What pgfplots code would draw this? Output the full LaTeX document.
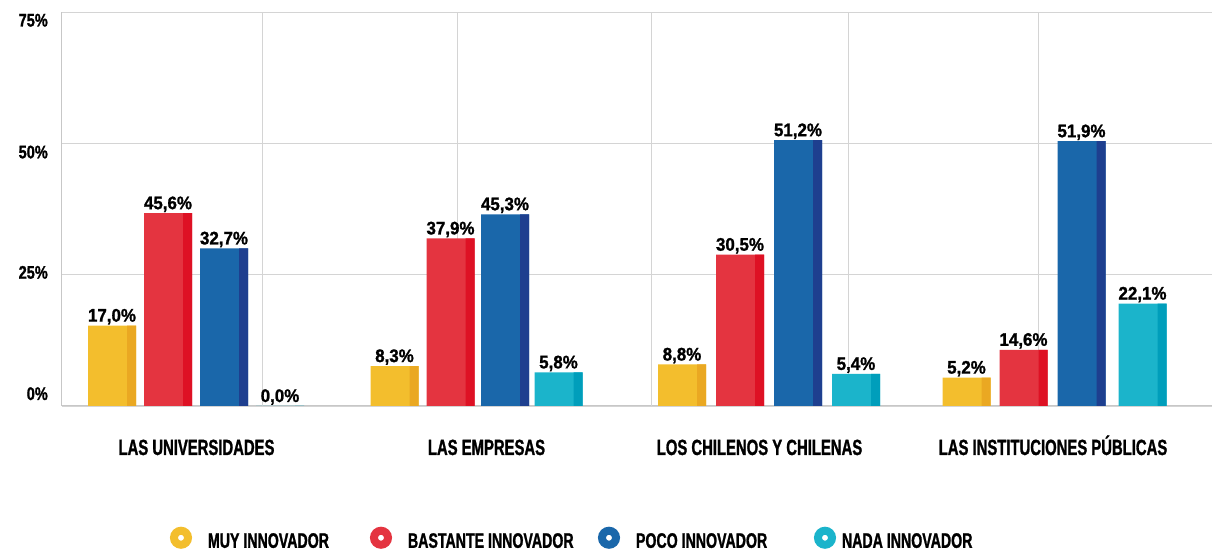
\documentclass[border=0pt]{standalone}
\usepackage{fontspec}
\setmainfont{Liberation Sans}[FakeStretch=0.675, FakeBold=1.2]
\newfontfamily\numfont{Liberation Sans}[FakeStretch=0.93, FakeBold=1.2]
\newfontfamily\tickfont{Liberation Sans}[FakeStretch=0.8, FakeBold=1.2]
\usepackage{pgfplots}
\usepackage{pgfplotstable}
\pgfplotsset{compat=1.18}

\definecolor{ylw}{HTML}{F3BE2D}\definecolor{ylwD}{HTML}{EAA822}
\definecolor{rd}{HTML}{E43440}\definecolor{rdD}{HTML}{DE1124}
\definecolor{bl}{HTML}{1A67AA}\definecolor{blD}{HTML}{1E3F8F}
\definecolor{cy}{HTML}{1BB4CB}\definecolor{cyD}{HTML}{009EBB}

% x = bar centre (px), y = bar height as drawn, lab = printed value
\pgfplotstableread{
x y lab
112 15.3 17,0\%
394.5 7.6 8,3\%
682 7.9 8,8\%
966.5 5.4 5,2\%
}\muy
\pgfplotstableread{
x y lab
168 36.7 45,6\%
450.5 31.9 37,9\%
740 28.8 30,5\%
1023.5 10.7 14,6\%
}\bastante
\pgfplotstableread{
x y lab
224 30.0 32,7\%
505 36.5 45,3\%
798 50.6 51,2\%
1081.5 50.4 51,9\%
}\poco
\pgfplotstableread{
x y lab
280 0.0 0,0\%
558.5 6.4 5,8\%
856 6.1 5,4\%
1142.5 19.5 22,1\%
}\nada

\newcommand{\ring}[1]{\path[draw=none, fill=none] (0pt,-11pt) rectangle (22pt,11pt);
  \draw[draw=#1, line width=8pt, fill=white] (11pt,3.5pt) circle (7pt);}
\newcommand{\tl}[2]{\raisebox{#1}[0pt][0pt]{#2}}

\begin{document}
\begin{tikzpicture}
\begin{axis}[
  scale only axis, width=1150pt, height=394pt,
  xmin=62, xmax=1212, ymin=0, ymax=75,
  axis lines*=left,
  axis line style={draw=black!22, line width=1pt},
  ytick={0,25,50,75},
  yticklabels={\tl{6pt}{0\%},\tl{-4pt}{25\%},\tl{-15pt}{50\%},\tl{-14.5pt}{75\%}},
  ymajorgrids,
  grid style={draw=black!17, line width=0.9pt},
  xtick={196.5,486.5,759.5,1053},
  xticklabels={LAS UNIVERSIDADES, LAS EMPRESAS, LOS CHILENOS Y CHILENAS, LAS INSTITUCIONES PÚBLICAS},
  extra x ticks={262,457,651,848,1038},
  extra x tick labels={,,,,},
  extra x tick style={grid=major},
  major tick length=0pt,
  xticklabel style={font=\fontsize{22}{24}\selectfont\bfseries, anchor=base, inner sep=0pt, yshift=-49pt},
  yticklabel style={font=\tickfont\bfseries\fontsize{18.2}{20}\selectfont, anchor=east, inner sep=0pt, xshift=-14pt},
  clip=false,
  point meta=explicit symbolic,
  every node near coord/.append style={font=\numfont\bfseries\fontsize{18.2}{20}\selectfont, anchor=base, inner sep=0pt, yshift=4pt, text=black},
  legend columns=4,
  legend cell align=left,
  legend style={at={(rel axis cs:0.09391,-0.33883)}, anchor=west, draw=none, fill=none,
    inner sep=0pt, outer sep=0pt,
    nodes={inner sep=0pt},
    font=\fontsize{21}{23}\selectfont\bfseries,
    /tikz/every odd column/.style={column sep=16pt},
    /tikz/every even column/.style={column sep=0pt}},
]
% main bars
\addplot[ybar, bar width=48, bar shift=0pt, fill=ylw, draw=none, nodes near coords,
  legend image code/.code={\ring{ylw}}] table[x=x, y=y, meta=lab] {\muy};
\addlegendentry{\makebox[162pt][l]{MUY INNOVADOR}}
\addplot[ybar, bar width=48, bar shift=0pt, fill=rd, draw=none, nodes near coords,
  legend image code/.code={\ring{rd}}] table[x=x, y=y, meta=lab] {\bastante};
\addlegendentry{\makebox[190pt][l]{BASTANTE INNOVADOR}}
\addplot[ybar, bar width=48, bar shift=0pt, fill=bl, draw=none, nodes near coords,
  legend image code/.code={\ring{bl}}] table[x=x, y=y, meta=lab] {\poco};
\addlegendentry{\makebox[178pt][l]{POCO INNOVADOR}}
\addplot[ybar, bar width=48, bar shift=0pt, fill=cy, draw=none, nodes near coords,
  legend image code/.code={\ring{cy}}] table[x=x, y=y, meta=lab] {\nada};
\addlegendentry{\hspace{-10pt}NADA INNOVADOR}
% darker right-hand strips
\addplot[ybar, forget plot, bar width=9, bar shift=19.5pt, fill=ylwD, draw=none] table[x=x, y=y] {\muy};
\addplot[ybar, forget plot, bar width=9, bar shift=19.5pt, fill=rdD, draw=none] table[x=x, y=y] {\bastante};
\addplot[ybar, forget plot, bar width=9, bar shift=19.5pt, fill=blD, draw=none] table[x=x, y=y] {\poco};
\addplot[ybar, forget plot, bar width=9, bar shift=19.5pt, fill=cyD, draw=none] table[x=x, y=y] {\nada};
\end{axis}
\pgfresetboundingbox
\path[use as bounding box] (-62pt,-147pt) rectangle (1150pt,406pt);
\end{tikzpicture}
\end{document}
